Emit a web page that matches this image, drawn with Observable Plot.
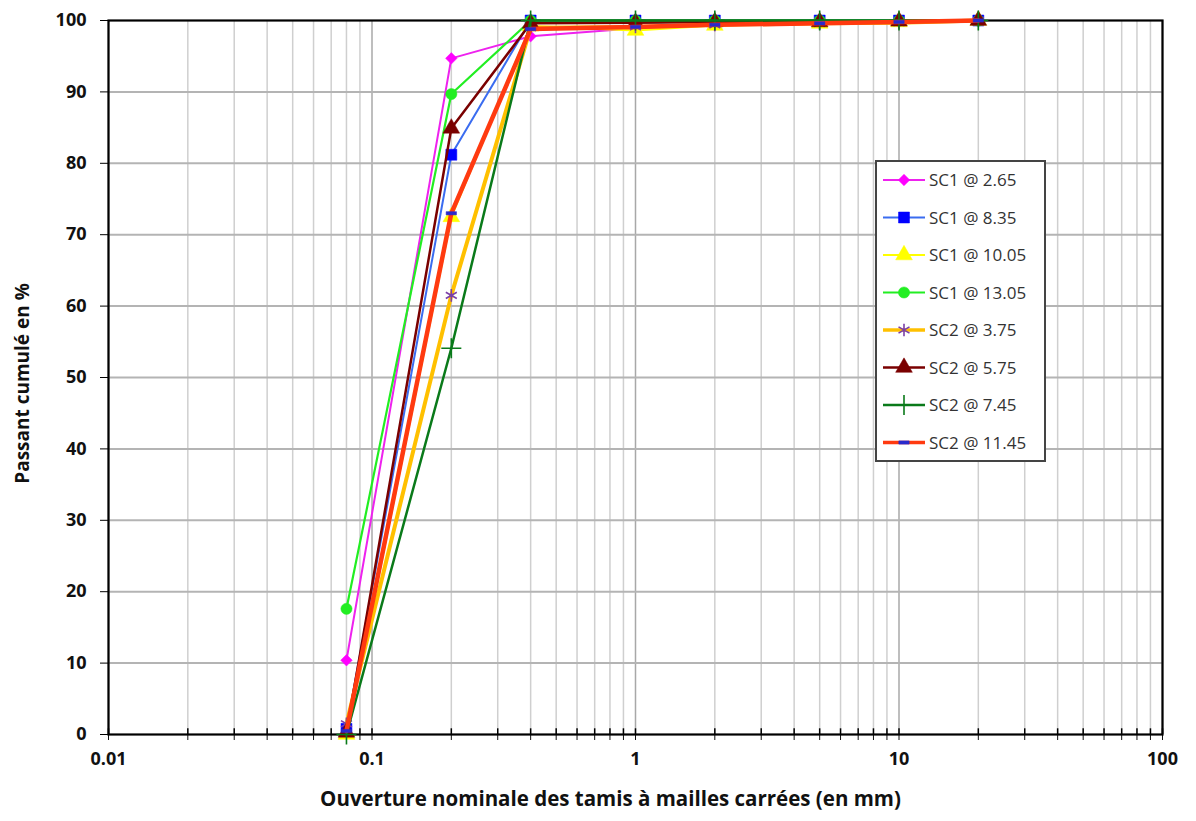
<!DOCTYPE html>
<html><head><meta charset="utf-8">
<script src="https://cdn.jsdelivr.net/npm/d3@7"></script>
<script src="https://cdn.jsdelivr.net/npm/@observablehq/plot@0.6"></script>
<style>
body{margin:0;background:#fff;}
#wrap{position:relative;width:1196px;height:821px;}
#legend{position:absolute;left:0;top:0;pointer-events:none;}
</style>
</head><body><div id="wrap"></div>
<script>
// ---- data ----
const sieves = [0.08, 0.2, 0.4, 1, 2, 5, 10, 20];
const seriesNames = ["SC1 @ 2.65","SC1 @ 8.35","SC1 @ 10.05","SC1 @ 13.05","SC2 @ 3.75","SC2 @ 5.75","SC2 @ 7.45","SC2 @ 11.45"];
const sc1_265  = [10.4, 94.7, 97.8, 98.9, 99.3, 99.6, 99.8, 100];
const sc1_835  = [0.8, 81.2, 100, 100, 100, 100, 100, 100];
const sc1_1005 = [0, 72.5, 99.2, 98.6, 99.3, 99.6, 99.8, 100];
const sc1_1305 = [17.6, 89.7, 100, 100, 100, 100, 100, 100];
const sc2_375  = [1.5, 61.5, 99.0, 99.1, 99.4, 99.6, 99.7, 100];
const sc2_575  = [0.3, 84.9, 99.6, 99.7, 99.8, 99.8, 99.9, 100];
const sc2_745  = [0, 54.1, 100, 100, 100, 100, 100, 100];
const sc2_1145 = [0.5, 73.0, 98.8, 99.1, 99.4, 99.6, 99.8, 100];
const seriesValues = [sc1_265, sc1_835, sc1_1005, sc1_1305, sc2_375, sc2_575, sc2_745, sc2_1145];
const yTicks = [0,10,20,30,40,50,60,70,80,90,100];
const xMajorTicks = [0.01, 0.1, 1, 10, 100];
const xTickLabels = ["0.01", "0.1", "1", "10", "100"];

// ---- styles ----
const lineColors   = ["#ee22ee","#3a6cf0","#ffff00","#22ee22","#ffc000","#7a0000","#0a7a1a","#ff3a10"];
const markerColors = ["#ff00ff","#0000ff","#ffff00","#22ee22","#7b3fa8","#7a0000","#0a7a1a","#2a2acc"];
const lineWidths   = [2, 2, 2.2, 2.2, 4, 2.5, 2.5, 4.5];
const dash = {draw(ctx, size){ const w = Math.sqrt(size)*1.3, h = w/3.2; ctx.moveTo(-w/2,-h/2); ctx.lineTo(w/2,-h/2); ctx.lineTo(w/2,h/2); ctx.lineTo(-w/2,h/2); ctx.closePath(); }};
const symbols = ["diamond2","square","triangle","circle","asterisk","triangle","plus",dash];
const symbolFilled = [true,true,true,true,false,true,false,true];
const symbolR = [5.2, 6.2, 6.2, 5.6, 6, 6.2, 6.5, 4.5];

const FONT = "'Open Sans', 'Liberation Sans', Arial, sans-serif";

const rows = seriesNames.map((name, i) => sieves.map((s, j) => ({series: name, x: s, y: seriesValues[i][j]})));

const minorTicks = [];
[0.01, 0.1, 1, 10].forEach(dec => { for (let k = 1; k <= 9; k++) minorTicks.push(+(k*dec).toPrecision(3)); });
minorTicks.push(100);

const marks = [
  Plot.ruleX(minorTicks, {stroke: d => xMajorTicks.includes(d) ? "#a8a8a8" : "#cfcfcf", strokeWidth: 1.5}),
  Plot.ruleY(yTicks.filter(d => d > 0 && d < 100), {stroke: "#b4b4b4", strokeWidth: 2}),
  Plot.ruleX(minorTicks, {y1: 0, y2: 0.8, stroke: "#000", strokeWidth: 1.5}),
  Plot.axisY({ticks: yTicks, tickSize: 8, tickPadding: 14, label: null, fontSize: 18, fontWeight: "bold", stroke: "#000"}),
  Plot.axisX({ticks: minorTicks, tickFormat: d => { const k = xMajorTicks.indexOf(d); return k >= 0 ? xTickLabels[k] : ""; }, tickSize: 6, tickPadding: 12, label: null, fontSize: 18, fontWeight: "bold"}),
  Plot.frame({stroke: "#000", strokeWidth: 2.2}),
];
rows.forEach((data, i) => {
  marks.push(Plot.line(data, {x: "x", y: "y", stroke: lineColors[i], strokeWidth: lineWidths[i]}));
  marks.push(Plot.dot(data, {x: "x", y: "y", symbol: symbols[i], r: symbolR[i],
    fill: symbolFilled[i] ? markerColors[i] : "none", stroke: markerColors[i], strokeWidth: symbolFilled[i] ? 0.5 : 1.6}));
});
marks.push(Plot.text(["Ouverture nominale des tamis à mailles carrées (en mm)"], {frameAnchor: "bottom", dy: 71, dx: -25, fontSize: 20.5, fontWeight: "bold", fill: "#111"}));
marks.push(Plot.text(["Passant cumulé en %"], {frameAnchor: "left", textAnchor: "middle", dx: -86, dy: 6, rotate: -90, fontSize: 19, fontWeight: "bold", fill: "#111"}));

const chart = Plot.plot({
  width: 1196, height: 821,
  marginLeft: 108, marginRight: 34, marginTop: 20, marginBottom: 87,
  x: {type: "log", domain: [0.01, 100]},
  y: {domain: [0, 100]},
  style: {fontFamily: FONT, color: "#111", background: "#fff"},
  marks
});
document.getElementById("wrap").appendChild(chart);

// ---- legend overlay ----
const lg = d3.select("#wrap").append("svg").attr("id","legend").attr("width",1196).attr("height",821);
lg.append("rect").attr("x",876).attr("y",161).attr("width",169).attr("height",300)
  .attr("fill","#fff").attr("stroke","#444").attr("stroke-width",2);
const symMap = {diamond2: d3.symbolDiamond2, square: d3.symbolSquare, triangle: d3.symbolTriangle, circle: d3.symbolCircle, asterisk: d3.symbolAsterisk, plus: d3.symbolPlus};
seriesNames.forEach((name, i) => {
  const cy = 180 + i*37.5;
  const g = lg.append("g");
  g.append("line").attr("x1",883).attr("x2",925).attr("y1",cy).attr("y2",cy)
    .attr("stroke",lineColors[i]).attr("stroke-width",Math.min(lineWidths[i],3.5));
  const st = typeof symbols[i] === "string" ? symMap[symbols[i]] : symbols[i];
  g.append("path").attr("transform",`translate(904,${cy})`)
    .attr("d", d3.symbol(st, Math.PI*symbolR[i]*symbolR[i])())
    .attr("fill", symbolFilled[i] ? markerColors[i] : "none")
    .attr("stroke", markerColors[i]).attr("stroke-width", symbolFilled[i] ? 0.5 : 1.6);
  g.append("text").attr("x",929).attr("y",cy).attr("dy","0.36em")
    .attr("font-family",FONT).attr("font-size",17).attr("fill","#333").text(name);
});
</script>
</body></html>
